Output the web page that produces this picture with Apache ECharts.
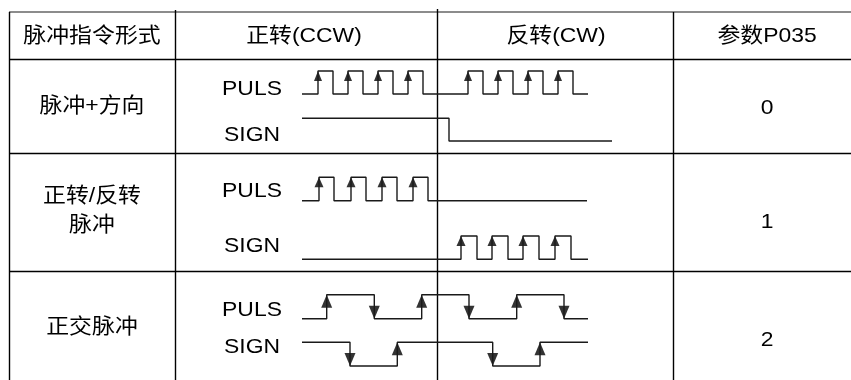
<!DOCTYPE html>
<html><head><meta charset="utf-8">
<script src="https://cdn.jsdelivr.net/npm/echarts@6/dist/echarts.min.js"></script>
<style>html,body{margin:0;padding:0;background:#fff}#c{width:851px;height:380px}</style>
</head><body><div id="c"></div>
<script>
// ---- table text ----
const headers = ['脉冲指令形式', '正转(CCW)', '反转(CW)', '参数P035'];
const modes = ['脉冲+方向', '正转/反转\n脉冲', '正交脉冲'];
const params = ['0', '1', '2'];
const signalNames = ['PULS', 'SIGN', 'PULS', 'SIGN', 'PULS', 'SIGN'];

// ---- waveforms (time units along the diagram, level 0 = low, 1 = high) ----
const r1PulsRise = [16, 46, 76, 106, 166, 196, 226, 256];
const r1PulsFall = [31, 61, 91, 121, 181, 211, 241, 271];
const r1SignRise = [];
const r1SignFall = [147];
const r2PulsRise = [17, 49, 80, 111];
const r2PulsFall = [32, 64, 95, 126];
const r2SignRise = [159, 190, 221, 253];
const r2SignFall = [175, 206, 237, 269];
const r3PulsRise = [24.7, 119.7, 214.7];
const r3PulsFall = [72.3, 167, 262];
const r3SignRise = [95.3, 238];
const r3SignFall = [48, 190.7];
const startLevels = [0, 1, 0, 0, 0, 1];
const endTimes = [286, 310, 285, 286, 286, 286];
const arrowOnRise = [true, false, true, true, true, true];
const arrowOnFall = [false, false, false, false, true, true];

const rises = [r1PulsRise, r1SignRise, r2PulsRise, r2SignRise, r3PulsRise, r3SignRise];
const falls = [r1PulsFall, r1SignFall, r2PulsFall, r2SignFall, r3PulsFall, r3SignFall];

// ---- layout ----
const gridTops = [71, 118.3, 177.3, 236, 294.7, 342.3];
const gridHeights = [23, 22.7, 23.4, 23.3, 24, 23.7];
const arrowSizes = [[8, 10], [8, 10], [9, 10], [9, 10], [11, 13], [11, 13]];
const FONT = '"Liberation Sans", Arial, "Noto Sans CJK SC", sans-serif';
const FS = 21, SX = 1.09;

function steps(start, r, f, end) {
  const ev = r.map(t => [t, 1]).concat(f.map(t => [t, 0])).sort((a, b) => a[0] - b[0]);
  const d = [[0, start]];
  let lv = start;
  ev.forEach(([t, v]) => { d.push([t, lv]); d.push([t, v]); lv = v; });
  d.push([end, lv]);
  return d;
}

const grid = [], xAxis = [], yAxis = [], series = [];
for (let i = 0; i < 6; i++) {
  grid.push({ left: 302, width: 310, top: gridTops[i], height: gridHeights[i] });
  xAxis.push({ type: 'value', gridIndex: i, min: 0, max: 310, show: false });
  yAxis.push({ type: 'value', gridIndex: i, min: 0, max: 1, show: false });
  series.push({
    type: 'line', xAxisIndex: i, yAxisIndex: i, data: steps(startLevels[i], rises[i], falls[i], endTimes[i]),
    showSymbol: false, clip: false, lineStyle: { color: '#1a1a1a', width: 1.4 }, silent: true
  });
  if (arrowOnRise[i]) series.push({
    type: 'scatter', xAxisIndex: i, yAxisIndex: i, data: rises[i].map(t => [t, 1]),
    symbol: 'triangle', symbolSize: arrowSizes[i], symbolOffset: [0, '50%'], clip: false,
    itemStyle: { color: '#000' }, silent: true
  });
  if (arrowOnFall[i]) series.push({
    type: 'scatter', xAxisIndex: i, yAxisIndex: i, data: falls[i].map(t => [t, 0]),
    symbol: 'triangle', symbolSize: arrowSizes[i], symbolRotate: 180, symbolOffset: [0, '-50%'], clip: false,
    itemStyle: { color: '#000' }, silent: true
  });
}

// table structure
const hLines = [[9, 12, 851, '#666'], [9, 59.5, 851, '#000'], [9, 153.5, 851, '#000'], [9, 271.5, 851, '#000']];
const vLines = [[9.5, 12, 380], [175.5, 10, 380], [437.5, 9, 380], [673.5, 12, 380]];
const graphic = [];
hLines.forEach(([x1, y, x2, c]) => graphic.push({ type: 'line', shape: { x1, y1: y, x2, y2: y }, style: { stroke: c, lineWidth: 1.4 }, silent: true }));
vLines.forEach(([x, y1, y2]) => graphic.push({ type: 'line', shape: { x1: x, y1, x2: x, y2 }, style: { stroke: '#000', lineWidth: 1.4 }, silent: true }));

function txt(s, x, y, lh) {
  graphic.push({ type: 'text', x, y, scaleX: SX, silent: true,
    style: { text: s, fill: '#000', fontSize: FS, fontFamily: FONT, align: 'center', verticalAlign: 'middle', lineHeight: lh || FS } });
}
const headerX = [92, 304, 556, 767];
headers.forEach((h, i) => txt(h, headerX[i], 36));
const modeY = [106, 210.5, 327];
modes.forEach((m, i) => txt(m, 92, modeY[i], 29));
const paramY = [108, 222, 340];
params.forEach((p, i) => txt(p, 767, paramY[i]));
const sigY = [89, 135.5, 191.5, 246.7, 310, 347.5];
signalNames.forEach((s, i) => txt(s, 252, sigY[i]));

const chart = echarts.init(document.getElementById('c'), null, { renderer: 'canvas' });
chart.setOption({ animation: false, backgroundColor: '#fff', grid, xAxis, yAxis, series, graphic });
</script>
</body></html>
